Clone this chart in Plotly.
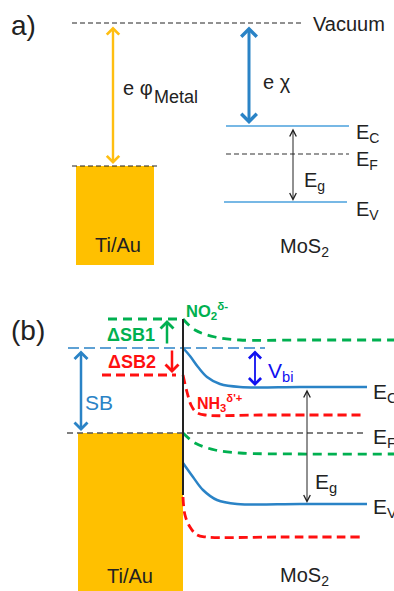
import plotly.graph_objects as go

W, H = 394, 591
FONT = "Arial, Liberation Sans, sans-serif"

# ---------------- colours ----------------
ORANGE = "#FFC000"
BLUE = "#2A83C6"
LBLUE = "#4AA0DC"
VBLUE = "#1010F0"
GREEN = "#00B050"
RED = "#FF1010"
GRAY = "#555555"

# ---------------- panel (a) levels (pixel space) ----------------
a_vacuum_x = [72, 302]
a_vacuum_y = [23, 23]
a_metal_x = [72, 158]
a_metal_y = [166, 166]
a_box_x = [76, 154, 154, 76, 76]
a_box_y = [166, 166, 265, 265, 166]
a_ec_x = [226, 349]
a_ec_y = [126, 126]
a_ef_x = [226, 349]
a_ef_y = [154, 154]
a_ev_x = [224, 347]
a_ev_y = [202, 202]

# ---------------- panel (b) curves (pixel space) ----------------
b_box_x = [78, 183, 183, 78, 78]
b_box_y = [433, 433, 591, 591, 433]
b_interface_x = [183, 183]
b_interface_y = [319, 495]
b_sb_dash_x = [68, 265]
b_sb_dash_y = [348, 348]
b_ef_x = [67, 366]
b_ef_y = [433, 433]
b_green_stub_x = [108, 183]
b_green_stub_y = [319, 319]
b_green_top_x = [183, 195, 215, 240, 300, 394]
b_green_top_y = [319, 330, 337, 340, 340, 340]
b_red_stub_x = [102, 176]
b_red_stub_y = [375, 375]
b_red_top_x = [183, 187, 191, 196, 205, 260, 365]
b_red_top_y = [375, 392, 405, 412, 415, 415, 415]
b_ec_x = [183, 190, 198, 207, 220, 240, 300, 367]
b_ec_y = [348, 356, 367, 377, 384, 387, 387, 387]
b_green_low_x = [183, 195, 215, 240, 300, 394]
b_green_low_y = [433, 443, 450, 453, 454, 454]
b_ev_x = [183, 193, 203, 217, 237, 300, 367]
b_ev_y = [463, 477, 490, 500, 504, 504, 504]
b_red_low_x = [183, 185, 190, 197, 206, 280, 362]
b_red_low_y = [497, 515, 527, 535, 537, 537, 537]

fig = go.Figure()


def line(x, y, color, width, dash=None, shape="linear"):
    fig.add_trace(go.Scatter(
        x=x, y=y, mode="lines", hoverinfo="skip", showlegend=False,
        line=dict(color=color, width=width, dash=dash, shape=shape)))


def box(x, y, color):
    fig.add_trace(go.Scatter(
        x=x, y=y, mode="lines", fill="toself", fillcolor=color,
        line=dict(color=color, width=0), hoverinfo="skip", showlegend=False))


# panel (a)
box(a_box_x, a_box_y, ORANGE)
line(a_vacuum_x, a_vacuum_y, "#222222", 1, "5px,3px")
line(a_metal_x, a_metal_y, "#222222", 1, "5px,3px")
line(a_ec_x, a_ec_y, LBLUE, 1.3)
line(a_ef_x, a_ef_y, "#333333", 1.2, "5px,3px")
line(a_ev_x, a_ev_y, LBLUE, 1.3)

# panel (b)
box(b_box_x, b_box_y, ORANGE)
line(b_ef_x, b_ef_y, GRAY, 1.5, "6px,4px")
line(b_sb_dash_x, b_sb_dash_y, BLUE, 1.5, "11px,5px")
line(b_green_stub_x, b_green_stub_y, GREEN, 2.8, "9px,6px")
line(b_green_top_x, b_green_top_y, GREEN, 2.8, "9px,6px", "spline")
line(b_red_stub_x, b_red_stub_y, RED, 2.8, "9px,5px")
line(b_red_top_x, b_red_top_y, RED, 2.8, "9px,5px", "spline")
line(b_green_low_x, b_green_low_y, GREEN, 2.8, "9px,6px", "spline")
line(b_red_low_x, b_red_low_y, RED, 2.8, "9px,5px", "spline")
line(b_ec_x, b_ec_y, BLUE, 2.5, None, "spline")
line(b_ev_x, b_ev_y, BLUE, 2.5, None, "spline")
line(b_interface_x, b_interface_y, "#222222", 2)

# ---------------- arrows ----------------
# (x_head, y_head, x_tail, y_tail, colour, width, head, double)
arrows = [
    (113, 164, 113, 25, "#FFBE10", 2.4, 4, True),
    (249, 124, 249, 25, BLUE, 3, 4, True),
    (293, 201, 293, 127, "#222222", 1, 5, True),
    (81, 431, 81, 349, BLUE, 2.5, 4, True),
    (167, 320, 167, 345, GREEN, 2.5, 4, False),
    (172, 373, 172, 349, RED, 2.5, 4, False),
    (255, 386, 255, 349, VBLUE, 1.8, 4, True),
    (307, 503, 307, 388, "#222222", 1, 5, True),
]
for xh, yh, xt, yt, c, w, hd, dbl in arrows:
    fig.add_annotation(
        x=xh, y=yh, ax=xt, ay=yt, xref="x", yref="y", axref="x", ayref="y",
        showarrow=True, arrowcolor=c, arrowwidth=w, arrowhead=hd,
        startarrowhead=hd, arrowsize=1.3 if w < 2 else 1.0,
        startarrowsize=1.3 if w < 2 else 1.0,
        arrowside="end+start" if dbl else "end", text="",
        standoff=0, startstandoff=0)

# ---------------- labels ----------------
# (text, x, y, size, colour, xanchor, bold)
labels = [
    ("a)", 9, 25, 28, "#222222", "left", False),
    ("Vacuum", 311, 24, 20, "#222222", "left", False),
    ("e φ", 121, 88, 20, "#222222", "left", False),
    ("Metal", 152, 97, 18, "#222222", "left", False),
    ("e χ", 261, 82, 20, "#222222", "left", False),
    ("E<sub>C</sub>", 354, 133, 20, "#222222", "left", False),
    ("E<sub>F</sub>", 354, 160, 20, "#222222", "left", False),
    ("E<sub>V</sub>", 354, 210, 20, "#222222", "left", False),
    ("E<sub>g</sub>", 302, 181, 20, "#222222", "left", False),
    ("Ti/Au", 118, 245, 20, "#222222", "center", False),
    ("MoS<sub>2</sub>", 304, 247, 20, "#222222", "center", False),
    ("(b)", 9, 330, 28, "#222222", "left", False),
    ("ΔSB1", 131, 335, 18, GREEN, "center", True),
    ("ΔSB2", 132, 362, 18, RED, "center", True),
    ("SB", 83, 402, 21, BLUE, "left", False),
    ("NO<sub>2</sub><sup>δ-</sup>", 184, 311, 16.5, GREEN, "left", True),
    ("NH<sub>3</sub><sup>δ'+</sup>", 195, 403, 16, RED, "left", True),
    ("V<sub>bi</sub>", 266, 372, 21, VBLUE, "left", False),
    ("E<sub>C</sub>", 371, 393, 21, "#222222", "left", False),
    ("E<sub>F</sub>", 371, 438, 21, "#222222", "left", False),
    ("E<sub>V</sub>", 371, 508, 21, "#222222", "left", False),
    ("E<sub>g</sub>", 313, 483, 21, "#222222", "left", False),
    ("Ti/Au", 130, 576, 20, "#222222", "center", False),
    ("MoS<sub>2</sub>", 304, 576, 20, "#222222", "center", False),
]
for t, x, y, s, c, xa, b in labels:
    fig.add_annotation(
        x=x, y=y, xref="x", yref="y", text=f"<b>{t}</b>" if b else t,
        showarrow=False, xanchor=xa, yanchor="middle",
        font=dict(family=FONT, size=s, color=c))

fig.update_layout(
    width=W, height=H, margin=dict(l=0, r=0, t=0, b=0),
    paper_bgcolor="white", plot_bgcolor="white",
    xaxis=dict(range=[0, W], visible=False, fixedrange=True),
    yaxis=dict(range=[H, 0], visible=False, fixedrange=True),
    showlegend=False,
)

fig.write_html("out.html", config={"displayModeBar": False})
